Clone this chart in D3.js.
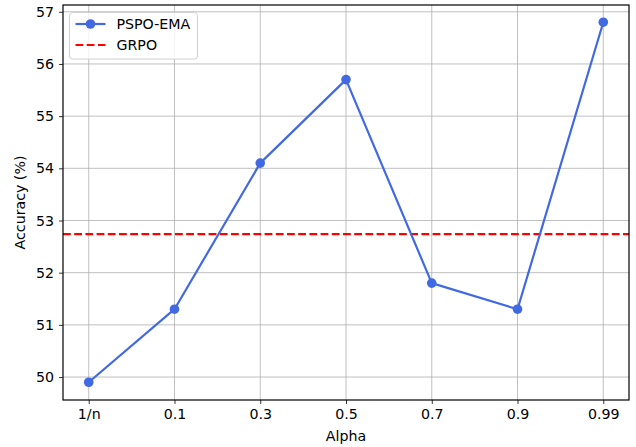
<!DOCTYPE html>
<html>
<head>
<meta charset="utf-8">
<script src="https://cdn.jsdelivr.net/npm/d3@7"></script>
<style>
  body { margin: 0; background: #fff; }
  svg { display: block; font-family: "DejaVu Sans", sans-serif; }
</style>
</head>
<body>
<div id="chart"></div>
<script>
const categories = ['1/n', '0.1', '0.3', '0.5', '0.7', '0.9', '0.99'];
const pspoEma = [49.9, 51.3, 54.1, 55.7, 51.8, 51.3, 56.8];
const grpo = 52.74;
const yTicks = [50, 51, 52, 53, 54, 55, 56, 57];

const width = 636;
const height = 447;
const margin = { top: 5, right: 7, bottom: 47, left: 63 };
const fontSize = 14.2;

const x = d3
  .scalePoint()
  .domain(categories)
  .range([margin.left, width - margin.right])
  .padding(0.3);

const y = d3
  .scaleLinear()
  .domain([49.56, 57.13])
  .range([height - margin.bottom, margin.top]);

const svg = d3
  .create('svg')
  .attr('width', width)
  .attr('height', height);

// grid
const grid = svg.append('g').attr('stroke', '#b0b0b0').attr('stroke-width', 0.8);
grid
  .selectAll('line.v')
  .data(categories)
  .join('line')
  .attr('x1', (d) => x(d))
  .attr('x2', (d) => x(d))
  .attr('y1', margin.top)
  .attr('y2', height - margin.bottom);
grid
  .selectAll('line.h')
  .data(yTicks)
  .join('line')
  .attr('x1', margin.left)
  .attr('x2', width - margin.right)
  .attr('y1', (d) => y(d))
  .attr('y2', (d) => y(d));

// GRPO baseline
svg
  .append('line')
  .attr('x1', margin.left)
  .attr('x2', width - margin.right)
  .attr('y1', y(grpo))
  .attr('y2', y(grpo))
  .attr('stroke', 'red')
  .attr('stroke-width', 2.2)
  .attr('stroke-dasharray', '7.8,3.4');

// PSPO-EMA line
const line = d3
  .line()
  .x((d, i) => x(categories[i]))
  .y((d) => y(d));
svg
  .append('path')
  .datum(pspoEma)
  .attr('fill', 'none')
  .attr('stroke', '#4169e1')
  .attr('stroke-width', 2.2)
  .attr('stroke-linejoin', 'round')
  .attr('d', line);
svg
  .append('g')
  .selectAll('circle')
  .data(pspoEma)
  .join('circle')
  .attr('cx', (d, i) => x(categories[i]))
  .attr('cy', (d) => y(d))
  .attr('r', 4.8)
  .attr('fill', '#4169e1');

// axes
const xAxis = svg
  .append('g')
  .attr('transform', `translate(0,${height - margin.bottom})`)
  .call(d3.axisBottom(x).tickSizeOuter(0).tickSize(4).tickPadding(5));
const yAxis = svg
  .append('g')
  .attr('transform', `translate(${margin.left},0)`)
  .call(d3.axisLeft(y).tickValues(yTicks).tickSizeOuter(0).tickSize(4).tickPadding(5));
[xAxis, yAxis].forEach((g) => {
  g.select('.domain').remove();
  g.selectAll('text').attr('font-size', fontSize).attr('fill', '#000').attr('font-family', '"DejaVu Sans", sans-serif');
  g.selectAll('line').attr('stroke', '#000').attr('stroke-width', 0.8);
});

// frame
svg
  .append('rect')
  .attr('x', margin.left)
  .attr('y', margin.top)
  .attr('width', width - margin.left - margin.right)
  .attr('height', height - margin.top - margin.bottom)
  .attr('fill', 'none')
  .attr('stroke', '#000')
  .attr('stroke-width', 1.2);

// axis labels
svg
  .append('text')
  .attr('x', (margin.left + width - margin.right) / 2)
  .attr('y', height - 6)
  .attr('text-anchor', 'middle')
  .attr('font-size', fontSize)
  .text('Alpha');
svg
  .append('text')
  .attr('transform', `translate(25,${(margin.top + height - margin.bottom) / 2}) rotate(-90)`)
  .attr('text-anchor', 'middle')
  .attr('font-size', fontSize)
  .text('Accuracy (%)');

// legend
const legend = svg.append('g').attr('transform', 'translate(69.5,12.5)');
legend
  .append('rect')
  .attr('width', 128)
  .attr('height', 46.5)
  .attr('rx', 3)
  .attr('fill', '#fff')
  .attr('fill-opacity', 0.8)
  .attr('stroke', '#d0d0d0')
  .attr('stroke-width', 1);
legend
  .append('line')
  .attr('x1', 6)
  .attr('x2', 36)
  .attr('y1', 11.5)
  .attr('y2', 11.5)
  .attr('stroke', '#4169e1')
  .attr('stroke-width', 2.2);
legend
  .append('circle')
  .attr('cx', 21)
  .attr('cy', 11.5)
  .attr('r', 4.8)
  .attr('fill', '#4169e1');
legend
  .append('line')
  .attr('x1', 6)
  .attr('x2', 36)
  .attr('y1', 32.5)
  .attr('y2', 32.5)
  .attr('stroke', 'red')
  .attr('stroke-width', 2.2)
  .attr('stroke-dasharray', '7.8,3.4');
legend
  .append('text')
  .attr('x', 47)
  .attr('y', 11.5)
  .attr('dy', '0.35em')
  .attr('font-size', fontSize)
  .text('PSPO-EMA');
legend
  .append('text')
  .attr('x', 47)
  .attr('y', 32.5)
  .attr('dy', '0.35em')
  .attr('font-size', fontSize)
  .text('GRPO');

document.querySelector('div#chart').appendChild(svg.node());
</script>
</body>
</html>
